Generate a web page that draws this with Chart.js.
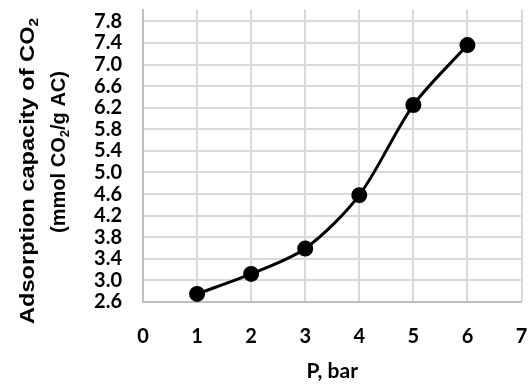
<!DOCTYPE html>
<html>
<head>
<meta charset="utf-8">
<script src="https://cdn.jsdelivr.net/npm/chart.js@4.4.1/dist/chart.umd.min.js"></script>
<style>
  html, body { margin: 0; padding: 0; background: #ffffff; }
  #wrap { width: 531px; height: 384px; }
</style>
</head>
<body>
<div id="wrap"><canvas id="chart" width="531" height="384"></canvas></div>
<script>
// Pressure (bar) and CO2 uptake (mmol CO2 / g AC)
const pressureBar = [1, 2, 3, 4, 5, 6];
const uptake = [2.75, 3.12, 3.59, 4.58, 6.25, 7.36];

// Axis tick values
const xTickValues = [0, 1, 2, 3, 4, 5, 6, 7];
const yTickValues = [2.6, 3.0, 3.4, 3.8, 4.2, 4.6, 5.0, 5.4, 5.8, 6.2, 6.6, 7.0, 7.4, 7.8];

// Axis titles (the "2" is drawn as a subscript)
const yTitleLines = [
  [["Adsorption capacity of CO", false], ["2", true]],
  [["(mmol CO", false], ["2", true], ["/g AC)", false]]
];
const xTitle = "P, bar";

const points = pressureBar.map((p, i) => ({ x: p, y: uptake[i] }));

const gridColor = '#d9d9d9';
const axisColor = '#bfbfbf';

// Grid lines at every tick, placed through the chart's own scales and
// painted underneath everything already on the canvas
const gridPlugin = {
  id: 'plotGrid',
  afterDraw(chart) {
    const { ctx, chartArea: a, scales } = chart;
    ctx.save();
    ctx.globalCompositeOperation = 'destination-over';
    ctx.strokeStyle = gridColor;
    ctx.lineWidth = 2;
    ctx.beginPath();
    xTickValues.slice(1).forEach(v => {
      const px = Math.round(scales.x.getPixelForValue(v));
      ctx.moveTo(px, a.top);
      ctx.lineTo(px, a.bottom - 1);
    });
    yTickValues.slice(1).forEach(v => {
      const py = Math.round(scales.y.getPixelForValue(v));
      ctx.moveTo(a.left + 1, py);
      ctx.lineTo(a.right, py);
    });
    ctx.stroke();
    ctx.restore();
  }
};

// Draws the two-line rotated y-axis title with subscripts
const yTitlePlugin = {
  id: 'yTitle',
  afterDraw(chart) {
    const ctx = chart.ctx;
    const size = 20;
    const subSize = 13;
    const placements = [
      { cx: 28, cy: 171, len: 306 },
      { cx: 59, cy: 152, len: 162 }
    ];
    yTitleLines.forEach((parts, li) => {
      ctx.save();
      let width = 0;
      parts.forEach(([t, sub]) => {
        ctx.font = `bold ${sub ? subSize : size}px "Liberation Sans", Arial, sans-serif`;
        width += ctx.measureText(t).width;
      });
      const pl = placements[li];
      const sx = pl.len / width;
      ctx.translate(pl.cx, pl.cy);
      ctx.rotate(-Math.PI / 2);
      ctx.scale(sx, 1);
      ctx.fillStyle = '#000';
      ctx.textBaseline = 'middle';
      ctx.textAlign = 'left';
      let x = -width / 2;
      parts.forEach(([t, sub]) => {
        ctx.font = `bold ${sub ? subSize : size}px "Liberation Sans", Arial, sans-serif`;
        ctx.fillText(t, x, sub ? 6 : 0);
        x += ctx.measureText(t).width;
      });
      ctx.restore();
    });
  }
};

new Chart(document.getElementById('chart'), {
  type: 'line',
  data: {
    datasets: [{
      data: points,
      borderColor: '#000000',
      backgroundColor: '#000000',
      borderWidth: 3,
      pointRadius: 6.5,
      pointHoverRadius: 6.5,
      pointBackgroundColor: '#000000',
      pointBorderColor: '#000000',
      tension: 0.3,
      fill: false
    }]
  },
  options: {
    responsive: false,
    animation: false,
    devicePixelRatio: 1,
    layout: { padding: { top: 7, right: 9, left: 0, bottom: 0 } },
    plugins: {
      legend: { display: false },
      tooltip: { enabled: false }
    },
    scales: {
      x: {
        type: 'linear',
        min: 0,
        max: 7,
        afterBuildTicks(scale) { scale.ticks = xTickValues.map(v => ({ value: v })); },
        afterFit(scale) { scale.height = 82; },
        ticks: {
          color: '#000000',
          font: { family: 'Lato, "Liberation Sans", sans-serif', size: 20, weight: 'bold' },
          padding: 0,
          callback: v => String(v)
        },
        grid: {
          display: true,
          drawOnChartArea: false,
          drawTicks: true,
          tickLength: 23,
          tickColor: 'rgba(0,0,0,0)'
        },
        border: { color: axisColor, width: 2 },
        title: {
          display: true,
          text: xTitle,
          color: '#000000',
          font: { family: 'Lato, "Liberation Sans", sans-serif', size: 21, weight: 'bold' },
          padding: 0
        }
      },
      y: {
        type: 'linear',
        min: 2.6,
        max: 8.02,
        afterBuildTicks(scale) { scale.ticks = yTickValues.map(v => ({ value: v })); },
        afterFit(scale) { scale.width = 143; },
        ticks: {
          color: '#000000',
          font: { family: 'Lato, "Liberation Sans", sans-serif', size: 20, weight: 'bold', lineHeight: 0.7 },
          padding: 0,
          callback: v => Number(v).toFixed(1)
        },
        grid: {
          display: true,
          drawOnChartArea: false,
          drawTicks: true,
          tickLength: 21,
          tickColor: 'rgba(0,0,0,0)'
        },
        border: { color: axisColor, width: 2 }
      }
    }
  },
  plugins: [gridPlugin, yTitlePlugin]
});
</script>
</body>
</html>
